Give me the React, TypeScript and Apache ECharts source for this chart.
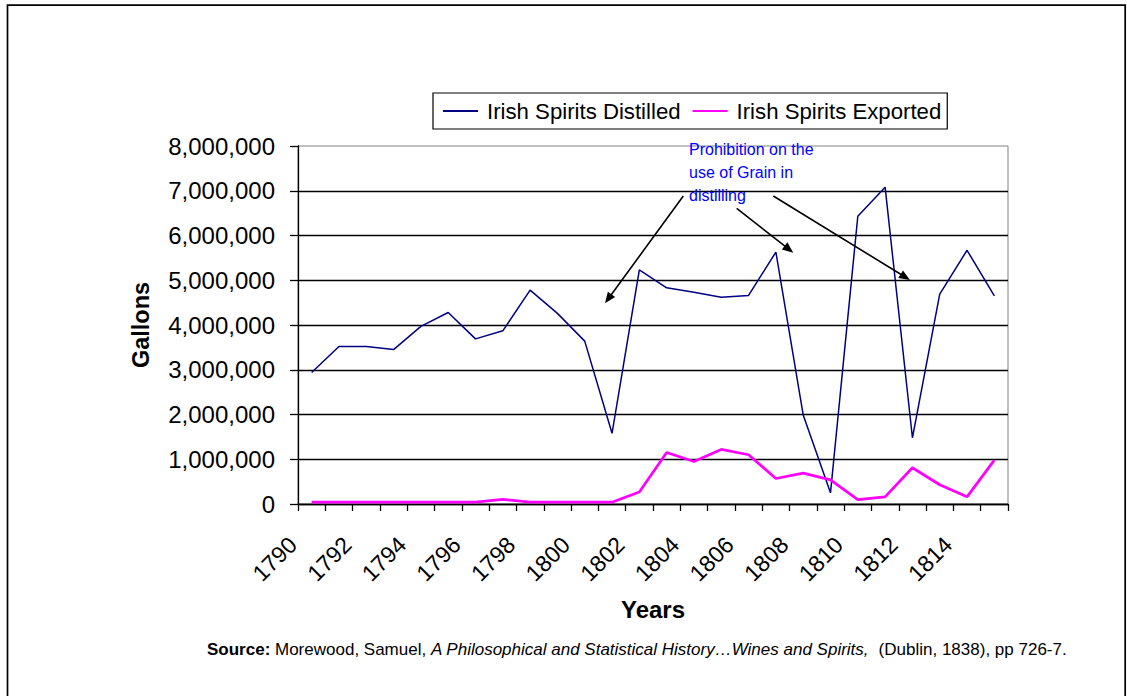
import React, { useEffect, useRef } from "react";
import * as echarts from "echarts";

// Years on the category axis
const years = [
  "1790", "1791", "1792", "1793", "1794", "1795", "1796", "1797", "1798", "1799",
  "1800", "1801", "1802", "1803", "1804", "1805", "1806", "1807", "1808", "1809",
  "1810", "1811", "1812", "1813", "1814", "1815",
];

// Gallons of Irish spirits distilled per year
const distilled = [
  2940000, 3520000, 3520000, 3450000, 3970000, 4280000, 3690000, 3870000, 4780000, 4260000,
  3640000, 1580000, 5230000, 4830000, 4730000, 4620000, 4660000, 5630000, 1990000, 250000,
  6430000, 7080000, 1480000, 4690000, 5670000, 4650000,
];

// Gallons of Irish spirits exported per year
const exported = [
  40000, 40000, 40000, 40000, 40000, 40000, 40000, 105000, 40000, 40000,
  40000, 40000, 270000, 1150000, 950000, 1220000, 1100000, 570000, 690000, 540000,
  100000, 160000, 810000, 430000, 160000, 980000,
];

const seriesNames = ["Irish Spirits Distilled", "Irish Spirits Exported"];
const noteLines = ["Prohibition on the", "use of Grain in", "distilling"];

const FONT = "'Liberation Sans', Arial, Helvetica, sans-serif";

// A straight arrow with a filled triangular head at (x2, y2)
function arrow(x1: number, y1: number, x2: number, y2: number) {
  const dx = x2 - x1;
  const dy = y2 - y1;
  const len = Math.hypot(dx, dy);
  const ux = dx / len;
  const uy = dy / len;
  const nx = -uy;
  const ny = ux;
  const headLen = 11;
  const headHalf = 4.5;
  const bx = x2 - ux * headLen;
  const by = y2 - uy * headLen;
  return [
    {
      type: "line",
      z: 100,
      shape: { x1, y1, x2: bx + ux * 2, y2: by + uy * 2 },
      style: { stroke: "#000", lineWidth: 1.6 },
    },
    {
      type: "polygon",
      z: 100,
      shape: {
        points: [
          [x2, y2],
          [bx + nx * headHalf, by + ny * headHalf],
          [bx - nx * headHalf, by - ny * headHalf],
        ],
      },
      style: { fill: "#000" },
    },
  ];
}

export default function App() {
  const ref = useRef<HTMLDivElement>(null);

  useEffect(() => {
    if (!ref.current) return;
    const chart = echarts.init(ref.current, null, { renderer: "svg" });

    chart.setOption({
      animation: false,
      backgroundColor: "#fff",
      textStyle: { fontFamily: FONT, color: "#000" },
      legend: {
        left: 433,
        top: 93,
        padding: [7, 6, 7, 9],
        itemGap: 11,
        itemWidth: 35,
        itemHeight: 14,
        borderColor: "#000",
        borderWidth: 1.2,
        itemStyle: { opacity: 0, borderWidth: 0 },
        textStyle: { fontSize: 22.2, color: "#000", fontFamily: FONT, padding: [0, 0, 0, 4] },
        data: seriesNames,
      },
      grid: {
        left: 298,
        top: 146,
        width: 710,
        height: 358,
        show: true,
        borderColor: "#808080",
        borderWidth: 1,
        backgroundColor: "transparent",
      },
      xAxis: {
        type: "category",
        data: years,
        boundaryGap: true,
        name: "Years",
        nameLocation: "middle",
        nameGap: 93,
        nameTextStyle: { fontSize: 24, fontWeight: "bold", color: "#000", fontFamily: FONT },
        axisLine: { lineStyle: { color: "#000", width: 1.3 } },
        axisTick: { show: true, interval: 0, length: 7, lineStyle: { color: "#000", width: 1.3 } },
        axisLabel: {
          interval: 1,
          rotate: 45,
          fontSize: 23,
          color: "#000",
          margin: 18,
          padding: [0, 26.7, 0, 0],
          fontFamily: FONT,
        },
        splitLine: { show: false },
      },
      yAxis: {
        type: "value",
        min: 0,
        max: 8000000,
        interval: 1000000,
        name: "Gallons",
        nameLocation: "middle",
        nameRotate: 90,
        nameGap: 145,
        nameTextStyle: { fontSize: 23.5, fontWeight: "bold", color: "#000", fontFamily: FONT },
        axisLine: { show: true, lineStyle: { color: "#000", width: 1.3 } },
        axisTick: { show: true, length: 8, lineStyle: { color: "#000", width: 1.3 } },
        axisLabel: {
          fontSize: 24,
          color: "#000",
          margin: 23,
          fontFamily: FONT,
          formatter: (v: number) => v.toLocaleString("en-US"),
        },
        splitLine: {
          show: true,
          showMaxLine: false,
          lineStyle: { color: "#000", width: 1.3 },
        },
      },
      series: [
        {
          name: seriesNames[0],
          type: "line",
          data: distilled,
          symbol: "none",
          lineStyle: { color: "#000080", width: 1.5 },
          itemStyle: { color: "#000080" },
          z: 3,
        },
        {
          name: seriesNames[1],
          type: "line",
          data: exported,
          symbol: "none",
          lineStyle: { color: "#FF00FF", width: 2.75 },
          itemStyle: { color: "#FF00FF" },
          z: 4,
        },
      ],
      graphic: [
        {
          type: "rect",
          z: 100,
          shape: { x: 7.5, y: 5.2, width: 1117.7, height: 720 },
          style: { fill: "none", stroke: "#000", lineWidth: 1.7 },
        },
        {
          type: "text",
          z: 100,
          x: 689,
          y: 137.8,
          style: {
            text: noteLines.join("\n"),
            fontSize: 16,
            lineHeight: 23,
            fontFamily: FONT,
            fill: "#0000FF",
            verticalAlign: "top",
          },
        },
        ...arrow(683.3, 196, 605, 303.3),
        ...arrow(736.7, 208.3, 793.3, 252.7),
        ...arrow(773.3, 196, 910, 280),
        {
          type: "text",
          z: 100,
          x: 207,
          y: 649,
          style: {
            text:
              "{b|Source:} Morewood, Samuel, {i|A Philosophical and Statistical History…Wines and Spirits,}  (Dublin, 1838), pp 726-7.",
            fontSize: 17,
            fontFamily: FONT,
            fill: "#000",
            verticalAlign: "middle",
            rich: {
              b: { fontWeight: "bold", fontSize: 17, fontFamily: FONT, fill: "#000" },
              i: { fontStyle: "italic", fontSize: 17, fontFamily: FONT, fill: "#000" },
            },
          },
        },
      ],
    });

    return () => chart.dispose();
  }, []);

  return (
    <div
      ref={ref}
      style={{ position: "absolute", left: 0, top: 0, width: 1127, height: 696, background: "#fff" }}
    />
  );
}
